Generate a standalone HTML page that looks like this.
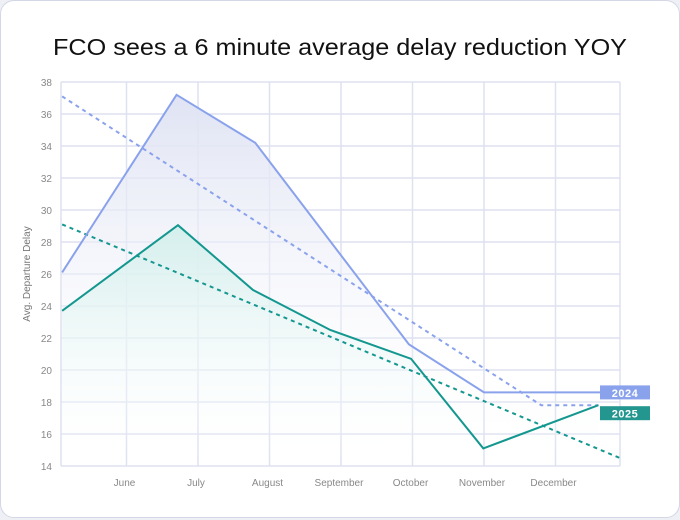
<!DOCTYPE html>
<html><head><meta charset="utf-8"><style>
body{margin:0;background:#eef0f6;}
#card{position:absolute;left:0;top:0;width:678px;height:516px;background:#fff;border:1px solid #d3d7e6;border-radius:14px;}
svg{position:absolute;left:0;top:0;}
text{font-family:"Liberation Sans",sans-serif;}
</style></head><body>
<div id="card"></div>
<svg id="chart" width="680" height="520">
<defs>
<linearGradient id="g24" x1="0" y1="0" x2="0" y2="1"><stop offset="0" stop-color="#dfe3f3"/><stop offset="1" stop-color="#ffffff" stop-opacity="0"/></linearGradient>
<linearGradient id="g25" x1="0" y1="0" x2="0" y2="1"><stop offset="0" stop-color="#d4efec"/><stop offset="1" stop-color="#ffffff" stop-opacity="0"/></linearGradient>
</defs>
<text x="340" y="55" text-anchor="middle" font-size="23" fill="#111" textLength="574" lengthAdjust="spacingAndGlyphs">FCO sees a 6 minute average delay reduction YOY</text>
<text transform="translate(30,274) rotate(-90)" text-anchor="middle" font-size="10" fill="#777">Avg. Departure Delay</text>
</svg>
<script>
const monthLabels=["June","July","August","September","October","November","December"];
const yTicks=[14,16,18,20,22,24,26,28,30,32,34,36,38];
const x2024=[-0.9,0.7,1.8,3.95,5.0,6.9];
const y2024=[26.1,37.2,34.2,21.6,18.6,18.6];
const x2025=[-0.9,0.72,1.77,2.85,3.98,4.99,6.6];
const y2025=[23.7,29.05,25.0,22.5,20.7,15.1,17.8];
const xTrend24=[-0.9,5.8,6.6];
const yTrend24=[37.1,17.8,17.8];
const xTrend25=[-0.9,6.9];
const yTrend25=[29.1,14.5];
const X=m=>126.5+m*71.5;
const Y=v=>82+(38-v)*16;
const L=61,R=620;
const svg=document.getElementById('chart');
const NS='http://www.w3.org/2000/svg';
function mk(t,a){const e=document.createElementNS(NS,t);for(const k in a)e.setAttribute(k,a[k]);svg.appendChild(e);return e;}
yTicks.forEach(v=>{
 const l=mk('line',{x1:L,x2:R,y1:Y(v),y2:Y(v),stroke:'#dde1f0','stroke-width':1.5});
 
 
 const t=mk('text',{x:52,y:Y(v)+4,'text-anchor':'end','font-size':10,fill:'#888'});
 t.textContent=v;
 
 
});
[L,R].forEach(x=>{const l=mk('line',{x1:x,x2:x,y1:Y(38),y2:Y(14),stroke:'#dde1f0','stroke-width':1.5});
 
 });
monthLabels.forEach((m,i)=>{
 const l=mk('line',{x1:X(i),x2:X(i),y1:Y(38),y2:Y(14),stroke:'#dde1f0','stroke-width':1.5});
 
 
 const t=mk('text',{x:X(i)-2,y:486,'text-anchor':'middle','font-size':10,fill:'#888'});
 t.textContent=m;
 
 
});
function pts(xs,ys){return xs.map((x,i)=>X(x)+','+Y(ys[i])).join(' ');}
function area(xs,ys,fill,name){
 const p=pts(xs,ys)+' '+X(xs[xs.length-1])+','+Y(14)+' '+X(xs[0])+','+Y(14);
 const e=mk('polygon',{points:p,fill:fill});
 
 
}
area(x2024,y2024,'url(#g24)','area-2024');
area(x2025,y2025,'url(#g25)','area-2025');
const t24=mk('polyline',{points:pts(xTrend24,yTrend24),fill:'none',stroke:'#8aa2ec','stroke-width':2,'stroke-dasharray':'4 4'});


const t25=mk('polyline',{points:pts(xTrend25,yTrend25),fill:'none',stroke:'#13978f','stroke-width':2,'stroke-dasharray':'4 4'});


const s24=mk('polyline',{points:pts(x2024,y2024),fill:'none',stroke:'#8aa2ec','stroke-width':2});


const s25=mk('polyline',{points:pts(x2025,y2025),fill:'none',stroke:'#13978f','stroke-width':2});


function label(txt,cy,color,name){
 const r=mk('rect',{x:600,y:cy-7,width:50,height:14,fill:color});
 
 
 const t=mk('text',{x:625,y:cy+4.5,'text-anchor':'middle','font-size':11,'font-weight':'bold',fill:'#fff','letter-spacing':'0.5'});
 t.textContent=txt;
 
 
}
label('2024',Y(y2024[y2024.length-1]),'#8aa2ec','label-2024');
label('2025',Y(y2025[y2025.length-1])+8,'#23968f','label-2025');
</script>
</body></html>
